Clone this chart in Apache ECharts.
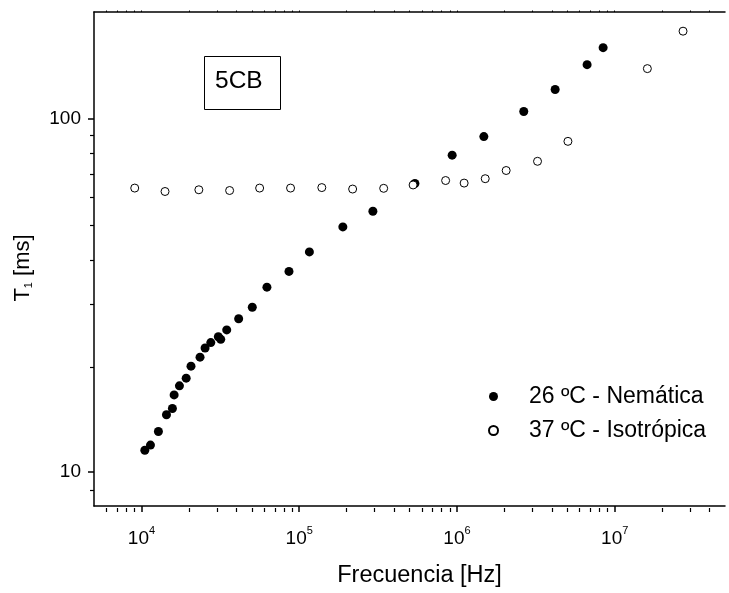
<!DOCTYPE html>
<html>
<head>
<meta charset="utf-8">
<script src="https://cdn.jsdelivr.net/npm/echarts@6/dist/echarts.min.js"></script>
<style>
html,body{margin:0;padding:0;background:#fff;}
#chart{width:729px;height:593px;}
</style>
</head>
<body>
<div id="chart"></div>
<script>
// Nemática (26 ºC) — frequency [Hz], T1 [ms]
const nemFreq = [1.05e4, 1.14e4, 1.28e4, 1.44e4, 1.57e4, 1.61e4, 1.74e4, 1.92e4, 2.06e4, 2.35e4,
  2.53e4, 2.75e4, 3.07e4, 3.18e4, 3.47e4, 4.13e4, 5.04e4, 6.24e4, 8.61e4, 1.16e5,
  1.89e5, 2.93e5, 5.41e5, 9.32e5, 1.48e6, 2.65e6, 4.19e6, 6.68e6, 8.44e6];
const nemT1 = [11.5, 11.9, 13.0, 14.5, 15.1, 16.5, 17.5, 18.4, 19.9, 21.1,
  22.4, 23.2, 24.1, 23.7, 25.2, 27.1, 29.2, 33.3, 36.9, 41.9,
  49.3, 54.6, 65.4, 78.7, 88.8, 104.6, 120.7, 141.9, 158.5];
// Isotrópica (37 ºC)
const isoFreq = [9.06e3, 1.41e4, 2.31e4, 3.62e4, 5.61e4, 8.81e4, 1.39e5, 2.18e5, 3.43e5, 5.27e5,
  8.47e5, 1.11e6, 1.51e6, 2.05e6, 3.24e6, 5.05e6, 1.61e7, 2.71e7];
const isoT1 = [63.5, 62.1, 62.8, 62.5, 63.5, 63.5, 63.7, 63.1, 63.4, 64.8,
  66.7, 65.6, 67.5, 71.2, 75.6, 86.1, 138.3, 176.5];

const seriesNames = ['26 ºC - Nemática', '37 ºC - Isotrópica'];
const xMajorTicks = [1e4, 1e5, 1e6, 1e7];
const yMajorTicks = [10, 100];
const xMinorTicks = [6e3, 7e3, 8e3, 9e3,
  2e4, 3e4, 4e4, 5e4, 6e4, 7e4, 8e4, 9e4,
  2e5, 3e5, 4e5, 5e5, 6e5, 7e5, 8e5, 9e5,
  2e6, 3e6, 4e6, 5e6, 6e6, 7e6, 8e6, 9e6,
  2e7, 3e7, 4e7];
const yMinorTicks = [9, 20, 30, 40, 50, 60, 70, 80, 90];

const FONT = '"Liberation Sans", Arial, sans-serif';

const chart = echarts.init(document.getElementById('chart'), null, {renderer: 'canvas'});

const gridRect = {left: 94, right: 4, top: 12, bottom: 85, containLabel: false, show: false, borderWidth: 0, borderColor: 'transparent'};
const xBase = {type: 'log', logBase: 10, min: 5000, max: 5e7, splitLine: {show: false}, minorSplitLine: {show: false}, splitArea: {show: false}};
const yBase = {type: 'log', logBase: 10, min: 8, max: 200, splitLine: {show: false}, minorSplitLine: {show: false}, splitArea: {show: false}};

chart.setOption({
  animation: false,
  backgroundColor: '#fff',
  grid: [Object.assign({}, gridRect), Object.assign({}, gridRect), Object.assign({}, gridRect)],
  xAxis: [
    Object.assign({}, xBase, {
      gridIndex: 0, position: 'bottom',
      axisLine: {show: true, lineStyle: {color: '#000', width: 1.5}},
      axisTick: {show: true, inside: false, length: 6, customValues: xMajorTicks, lineStyle: {color: '#000', width: 1.5}},
      axisLabel: {
        show: true, customValues: xMajorTicks, margin: 19,
        formatter: function (v) { return '{b|10}{s|' + Math.round(Math.log10(v)) + '}'; },
        rich: {
          b: {fontFamily: FONT, fontSize: 19, color: '#000', verticalAlign: 'bottom'},
          s: {fontFamily: FONT, fontSize: 11, color: '#000', verticalAlign: 'top', padding: [0, 0, 12, 0]}
        }
      },
      name: 'Frecuencia [Hz]', nameLocation: 'middle', nameGap: 58,
      nameTextStyle: {fontFamily: FONT, fontSize: 23.5, color: '#000', padding: [0, 0, 0, 20]}
    }),
    Object.assign({}, xBase, {
      gridIndex: 1, position: 'bottom',
      axisLine: {show: false},
      axisTick: {show: true, inside: false, length: 4, customValues: xMinorTicks, lineStyle: {color: '#000', width: 1.2}},
      axisLabel: {show: false}
    }),
    Object.assign({}, xBase, {
      gridIndex: 2, position: 'top',
      axisLine: {show: true, lineStyle: {color: '#000', width: 1.5}},
      axisTick: {show: true, inside: false, length: 1.5, customValues: xMinorTicks.concat(xMajorTicks), lineStyle: {color: '#000', width: 1}},
      axisLabel: {show: false}
    })
  ],
  yAxis: [
    Object.assign({}, yBase, {
      gridIndex: 0, position: 'left',
      axisLine: {show: true, lineStyle: {color: '#000', width: 1.5}},
      axisTick: {show: true, inside: false, length: 6, customValues: yMajorTicks, lineStyle: {color: '#000', width: 1.5}},
      axisLabel: {show: true, customValues: yMajorTicks, margin: 13, fontFamily: FONT, fontSize: 19, color: '#000'},
      name: 'T{s|1} [ms]', nameLocation: 'middle', nameGap: 60, nameRotate: 90,
      nameTextStyle: {fontFamily: FONT, fontSize: 22, color: '#000', padding: [0, 18, 0, 0],
        rich: {s: {fontFamily: FONT, fontSize: 11, color: '#000', verticalAlign: 'bottom', padding: [10, 0, 0, 0]}}}
    }),
    Object.assign({}, yBase, {
      gridIndex: 1, position: 'left',
      axisLine: {show: false},
      axisTick: {show: true, inside: false, length: 4, customValues: yMinorTicks, lineStyle: {color: '#000', width: 1.2}},
      axisLabel: {show: false}
    }),
    Object.assign({}, yBase, {
      gridIndex: 2, show: false, axisLine: {show: false}, axisTick: {show: false}, axisLabel: {show: false}
    })
  ],
  legend: {
    orient: 'vertical', left: 483, top: 380,
    itemWidth: 9, itemHeight: 9, itemGap: 11,
    icon: 'circle',
    textStyle: {fontFamily: FONT, fontSize: 23, color: '#000', padding: [0, 0, 0, 26], lineHeight: 22},
    data: seriesNames
  },
  series: [
    {
      name: seriesNames[0], type: 'scatter', xAxisIndex: 0, yAxisIndex: 0,
      symbol: 'circle', symbolSize: 9,
      itemStyle: {color: '#000', borderColor: '#000', borderWidth: 0, opacity: 1},
      data: nemFreq.map((f, i) => [f, nemT1[i]])
    },
    {
      name: seriesNames[1], type: 'scatter', xAxisIndex: 0, yAxisIndex: 0,
      symbol: 'circle', symbolSize: 8,
      itemStyle: {color: '#fff', borderColor: '#000', borderWidth: 1, opacity: 1},
      data: isoFreq.map((f, i) => [f, isoT1[i]])
    }
  ],
  graphic: [
    {type: 'rect', left: 202, top: 54, shape: {width: 76, height: 53},
      style: {fill: 'none', stroke: '#000', lineWidth: 1}, z: 10},
    {type: 'text', left: 215, top: 69, style: {text: '5CB', fontFamily: FONT, fontSize: 24.5, fill: '#000'}, z: 10}
  ]
});
</script>
</body>
</html>
